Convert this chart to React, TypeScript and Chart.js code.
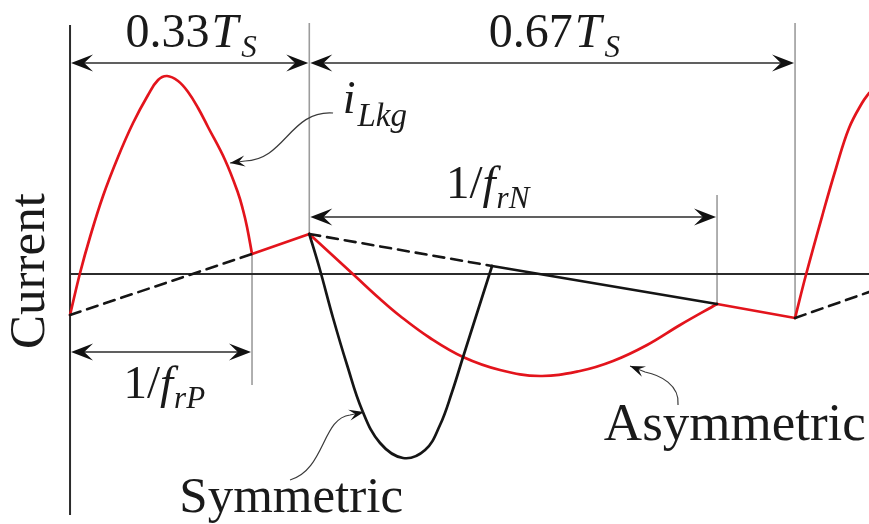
import React, { useEffect, useRef } from "react";
import { Chart, registerables } from "chart.js";

Chart.register(...registerables);

// Time axis in % of the switching period Ts, current in arbitrary units.
const X_MIN = -9.66;
const X_MAX = 110.2;
const Y_MIN = -125;
const Y_MAX = 137;

// Positive resonant half-cycle (1/frP) of the leakage current
const resonantP_t = [0, 1.38, 2.76, 4.55, 6.62, 8.69, 10.76, 12.14, 13.38, 14.9, 16.28, 17.66, 19.03, 21.38, 23.17, 23.86, 24.41, 25.1];
const resonantP_i = [-20.5, 0.5, 18.5, 39, 58.5, 75.5, 89.5, 97, 99, 96.5, 91, 83, 73.5, 57, 40.5, 32, 23.5, 10];

// Leakage current following the magnetizing current until 0.33Ts
const plateauP_t = [25.1, 33];
const plateauP_i = [10, 20];

// Asymmetric negative half-cycle (1/frN)
const asym_t = [33, 39.31, 42.76, 45.52, 49.66, 54.21, 59.31, 64.83, 70.34, 74.9, 79.59, 84.14, 89.24];
const asym_i = [20, -1, -12.5, -21, -32, -41.5, -48, -51, -48.5, -43.5, -35.5, -25.5, -15];

// Plateau after the negative resonance up to Ts
const plateauN_t = [89.24, 100];
const plateauN_i = [-15, -22];

// Start of the next positive half-cycle
const nextCycle_t = [100, 101.5, 103.86, 105.66, 107.45, 109.24, 110.21, 111.17];
const nextCycle_i = [-22, -0.5, 30.5, 53, 73, 85.5, 90.5, 95];

// Symmetric negative half-cycle and its plateau
const sym_t = [33, 34.48, 36.28, 38.21, 40.28, 42.76, 45.93, 48.97, 51.03, 52.69, 54.21, 56.14, 58.21];
const sym_i = [20, 2, -22, -45.5, -68, -84.5, -92, -88, -75.5, -59, -41.5, -19.5, 4];
const symLink_t = [58.21, 89.24];
const symLink_i = [4, -15];

// Magnetizing current (dashed)
const magA_t = [0, 25.1];
const magA_i = [-20.5, 10];
const magB_t = [33, 58.21];
const magB_i = [20, 4];
const magC_t = [100, 110.2];
const magC_i = [-22, -9];

// Vertical guide lines
const guideT = [25.1, 33, 89.24, 100];
const guideHi = [10, 125.5, 39.5, 125.5];
const guideLo = [-55.5, 20, -15, -22];

// Dimension arrows
const spanFrom = [0, 33, 33, 0];
const spanTo = [33, 100, 89.24, 25.1];
const spanLevel = [105.5, 105.5, 28.5, -39];

const RED = "#e3141c";
const BLACK = "#151515";
const SERIF = '"Liberation Serif", "Times New Roman", serif';

type Part = { s: string; it?: boolean; sub?: boolean; gap?: number };

const pts = (t: number[], v: number[]) => t.map((x, k) => ({ x, y: v[k] }));

function drawRich(
  ctx: CanvasRenderingContext2D,
  parts: Part[],
  x: number,
  y: number,
  size: number,
  subSize: number,
  subDrop: number,
  align: "left" | "center"
) {
  const fontOf = (p: Part) => `${p.it ? "italic " : ""}${p.sub ? subSize : size}px ${SERIF}`;
  let total = 0;
  const widths = parts.map((p) => {
    ctx.font = fontOf(p);
    const w = ctx.measureText(p.s).width + (p.gap || 0);
    total += w;
    return w;
  });
  let cx = align === "center" ? x - total / 2 : x;
  ctx.textAlign = "left";
  ctx.textBaseline = "alphabetic";
  parts.forEach((p, i) => {
    ctx.font = fontOf(p);
    ctx.fillText(p.s, cx + (p.gap || 0), y + (p.sub ? subDrop : 0));
    cx += widths[i];
  });
}

function arrowHead(
  ctx: CanvasRenderingContext2D,
  tx: number,
  ty: number,
  angle: number,
  len: number,
  half: number
) {
  ctx.save();
  ctx.translate(tx, ty);
  ctx.rotate(angle);
  ctx.beginPath();
  ctx.moveTo(0, 0);
  ctx.lineTo(-len, -half);
  ctx.lineTo(-len * 0.6, 0);
  ctx.lineTo(-len, half);
  ctx.closePath();
  ctx.fill();
  ctx.restore();
}

const schematic = {
  id: "schematic",
  beforeDatasetsDraw(chart: any) {
    const { ctx, scales } = chart;
    const X = (t: number) => scales.x.getPixelForValue(t);
    const Y = (v: number) => scales.y.getPixelForValue(v);
    ctx.save();
    ctx.fillStyle = "#ffffff";
    ctx.fillRect(0, 0, chart.width, chart.height);

    ctx.strokeStyle = "#9c9c9c";
    ctx.lineWidth = 1.6;
    guideT.forEach((t, k) => {
      ctx.beginPath();
      ctx.moveTo(X(t), Y(guideHi[k]));
      ctx.lineTo(X(t), Y(guideLo[k]));
      ctx.stroke();
    });

    ctx.strokeStyle = "#2b2b2b";
    ctx.lineWidth = 2;
    ctx.beginPath();
    ctx.moveTo(X(0), Y(124.5));
    ctx.lineTo(X(0), Y(-120.5));
    ctx.stroke();
    ctx.beginPath();
    ctx.moveTo(X(0), Y(0));
    ctx.lineTo(X(X_MAX), Y(0));
    ctx.stroke();
    ctx.restore();
  },
  afterDatasetsDraw(chart: any) {
    const { ctx, scales } = chart;
    const X = (t: number) => scales.x.getPixelForValue(t);
    const Y = (v: number) => scales.y.getPixelForValue(v);
    ctx.save();

    // dimension arrows
    ctx.strokeStyle = "#2b2b2b";
    ctx.fillStyle = "#111";
    ctx.lineWidth = 1.6;
    spanFrom.forEach((a, k) => {
      const x1 = X(a);
      const x2 = X(spanTo[k]);
      const yy = Y(spanLevel[k]);
      ctx.beginPath();
      ctx.moveTo(x1 + 4, yy);
      ctx.lineTo(x2 - 4, yy);
      ctx.stroke();
      arrowHead(ctx, x1 + 1, yy, Math.PI, 22, 8.5);
      arrowHead(ctx, x2 - 1, yy, 0, 22, 8.5);
    });

    // callouts
    const callouts = [
      { p: [36.28, 80.5, 30.34, 82, 29.66, 57, 24.14, 56.5], tip: [22.07, 55.5] },
      { p: [30.34, -103, 35.17, -98, 34.76, -72, 38.62, -70.5], tip: [40.55, -69] },
      { p: [83.86, -65.5, 84.14, -55.5, 81.38, -50.5, 79.31, -49], tip: [77.24, -46] },
    ];
    ctx.strokeStyle = "#3a3a3a";
    ctx.lineWidth = 1.2;
    callouts.forEach((c) => {
      const q = c.p;
      ctx.beginPath();
      ctx.moveTo(X(q[0]), Y(q[1]));
      ctx.bezierCurveTo(X(q[2]), Y(q[3]), X(q[4]), Y(q[5]), X(q[6]), Y(q[7]));
      ctx.lineTo(X(c.tip[0]), Y(c.tip[1]));
      ctx.stroke();
      const ang = Math.atan2(Y(c.tip[1]) - Y(q[7]), X(c.tip[0]) - X(q[6]));
      arrowHead(ctx, X(c.tip[0]), Y(c.tip[1]), ang, 15, 5.5);
    });

    // labels
    ctx.fillStyle = "#1a1a1a";
    drawRich(ctx, [{ s: "0.33" }, { s: "T", it: true, gap: 2 }, { s: "S", it: true, sub: true, gap: 3 }], X(16.7), Y(113.5), 48, 31, 10, "center");
    drawRich(ctx, [{ s: "0.67" }, { s: "T", it: true, gap: 2 }, { s: "S", it: true, sub: true, gap: 3 }], X(66.8), Y(113.5), 48, 31, 10, "center");
    drawRich(ctx, [{ s: "1/" }, { s: "f", it: true }, { s: "rN", it: true, sub: true, gap: 1 }], X(57.6), Y(38), 47, 31, 10, "center");
    drawRich(ctx, [{ s: "1/" }, { s: "f", it: true }, { s: "rP", it: true, sub: true, gap: 1 }], X(13.0), Y(-62), 47, 31, 10, "center");
    drawRich(ctx, [{ s: "i", it: true }, { s: "Lkg", it: true, sub: true, gap: 2 }], X(37.6), Y(80.5), 46, 33, 13, "left");

    ctx.font = `51px ${SERIF}`;
    ctx.textAlign = "center";
    ctx.textBaseline = "alphabetic";
    ctx.fillText("Symmetric", X(30.5), Y(-119));
    ctx.font = `53px ${SERIF}`;
    ctx.fillText("Asymmetric", X(91.7), Y(-83));

    ctx.save();
    ctx.translate(X(-5.5), Y(1.5));
    ctx.rotate(-Math.PI / 2);
    ctx.font = `51px ${SERIF}`;
    ctx.textAlign = "center";
    ctx.textBaseline = "middle";
    ctx.fillText("Current", 0, 0);
    ctx.restore();

    ctx.restore();
  },
};

export default function App() {
  const ref = useRef<HTMLCanvasElement>(null);

  useEffect(() => {
    const canvas = ref.current;
    if (!canvas) return;
    const dashed = { borderColor: BLACK, borderWidth: 2.6, borderDash: [11, 7], tension: 0 };
    const curve = { borderWidth: 2.7, tension: 0.4 };
    const straight = { borderWidth: 2.7, tension: 0 };
    const chart = new Chart(canvas, {
      type: "line",
      data: {
        datasets: [
          { label: "magA", data: pts(magA_t, magA_i), ...dashed },
          { label: "magB", data: pts(magB_t, magB_i), ...dashed },
          { label: "magC", data: pts(magC_t, magC_i), ...dashed },
          { label: "Symmetric", data: pts(sym_t, sym_i), borderColor: BLACK, ...curve },
          { label: "Symmetric plateau", data: pts(symLink_t, symLink_i), borderColor: BLACK, ...straight },
          { label: "iLkg P", data: pts(resonantP_t, resonantP_i), borderColor: RED, ...curve },
          { label: "iLkg plateau P", data: pts(plateauP_t, plateauP_i), borderColor: RED, ...straight },
          { label: "Asymmetric", data: pts(asym_t, asym_i), borderColor: RED, ...curve },
          { label: "iLkg plateau N", data: pts(plateauN_t, plateauN_i), borderColor: RED, ...straight },
          { label: "iLkg next", data: pts(nextCycle_t, nextCycle_i), borderColor: RED, ...curve },
        ] as any,
      },
      options: {
        animation: false,
        responsive: false,
        devicePixelRatio: 1,
        layout: { padding: 0 },
        elements: { point: { radius: 0, hoverRadius: 0 }, line: { fill: false, borderCapStyle: "round", borderJoinStyle: "round" } },
        plugins: { legend: { display: false }, tooltip: { enabled: false } },
        scales: {
          x: { type: "linear", min: X_MIN, max: X_MAX, display: false },
          y: { type: "linear", min: Y_MIN, max: Y_MAX, display: false },
        },
      },
      plugins: [schematic],
    });
    return () => chart.destroy();
  }, []);

  return (
    <div style={{ position: "fixed", left: 0, top: 0, width: 869, height: 524, background: "#fff" }}>
      <canvas ref={ref} width={869} height={524} style={{ display: "block" }} />
    </div>
  );
}
